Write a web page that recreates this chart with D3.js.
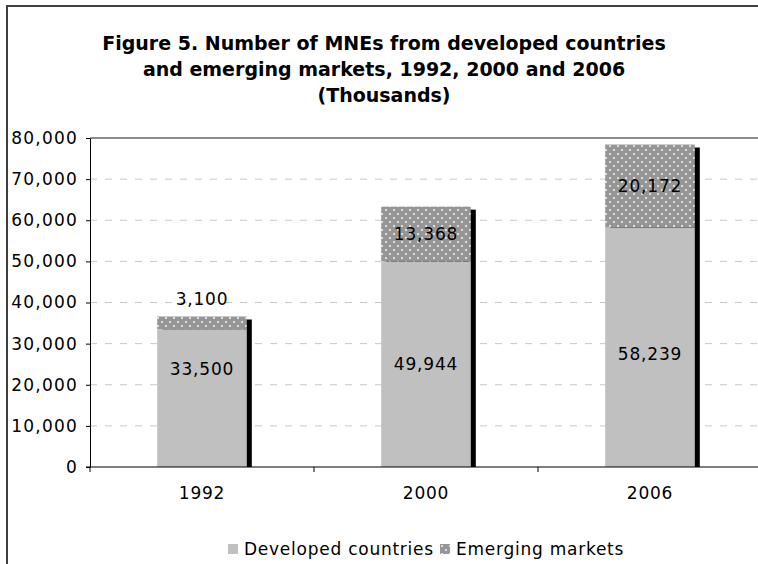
<!DOCTYPE html>
<html>
<head>
  <title>Number of MNEs from developed countries and emerging markets</title>
  <script src="https://d3js.org/d3.v7.min.js"></script>
  <style>
    body { margin: 0; background: #fff; }
    text { font-family: "DejaVu Sans", Verdana, sans-serif; fill: #000; }
    .title { font-weight: bold; font-size: 19px; }
  </style>
</head>
<body>
  <div id="chart"></div>

  <script>
    // chart data
    const years = ["1992", "2000", "2006"];
    const developed = [33500, 49944, 58239];
    const emerging = [3100, 13368, 20172];
    const yTicks = [0, 10000, 20000, 30000, 40000, 50000, 60000, 70000, 80000];
    // where the "developed" labels sit on the value axis (1992 label was moved up)
    const developedLabelAt = [23800, 24972, 27600];
    const titleLines = [
      "Figure 5. Number of MNEs from developed countries",
      "and emerging markets, 1992, 2000 and 2006",
      "(Thousands)"
    ];
    const seriesNames = ["Developed countries", "Emerging markets"];

    const W = 758, H = 564;
    const plot = { left: 90, right: 762, top: 138, bottom: 467 };
    const fontSize = 17;

    const svg = d3.select("#chart").append("svg")
      .attr("width", W)
      .attr("height", H);

    // dotted pattern for emerging markets
    const pat = svg.append("defs").append("pattern")
      .attr("id", "dots")
      .attr("patternUnits", "userSpaceOnUse")
      .attr("width", 8)
      .attr("height", 8);
    pat.append("rect").attr("width", 8).attr("height", 8).attr("fill", "#969696");
    pat.append("rect").attr("x", 1).attr("y", 1).attr("width", 2).attr("height", 2).attr("fill", "#dcdcdc");
    pat.append("rect").attr("x", 5).attr("y", 5).attr("width", 2).attr("height", 2).attr("fill", "#dcdcdc");

    // outer frame (cut off on right and bottom)
    svg.append("rect")
      .attr("x", 7).attr("y", 6)
      .attr("width", W + 20).attr("height", H + 20)
      .attr("fill", "none")
      .attr("stroke", "#404040")
      .attr("stroke-width", 2);

    // title
    svg.append("g").selectAll("text")
      .data(titleLines)
      .enter().append("text")
      .attr("class", "title")
      .attr("x", 384)
      .attr("y", (d, i) => 50 + i * 26)
      .attr("text-anchor", "middle")
      .text(d => d);

    const x = d3.scaleBand()
      .domain(years)
      .range([plot.left, plot.right])
      .paddingInner(0.6)
      .paddingOuter(0.3);

    const y = d3.scaleLinear()
      .domain([0, 80000])
      .range([plot.bottom, plot.top]);

    // gridlines
    svg.append("g").selectAll("line")
      .data(yTicks.filter(d => d > 0))
      .enter().append("line")
      .attr("x1", plot.left).attr("x2", plot.right)
      .attr("y1", d => y(d)).attr("y2", d => y(d))
      .attr("stroke", d => d === 80000 ? "#8c8c8c" : "#c8c8c8")
      .attr("stroke-width", d => d === 80000 ? 2 : 1)
      .attr("stroke-dasharray", d => d === 80000 ? null : "7,8");

    const fmt = d3.format(",");
    const rows = years.map((yr, i) => ({ yr, dev: developed[i], emg: emerging[i], devAt: developedLabelAt[i] }));

    // bar shadows
    svg.append("g").selectAll("rect")
      .data(rows)
      .enter().append("rect")
      .attr("x", d => x(d.yr) + 5)
      .attr("y", d => y(d.dev + d.emg) + 3)
      .attr("width", x.bandwidth())
      .attr("height", d => y(0) - y(d.dev + d.emg) - 3)
      .attr("fill", "#000");

    // developed segment
    svg.append("g").selectAll("rect")
      .data(rows)
      .enter().append("rect")
      .attr("x", d => x(d.yr))
      .attr("y", d => y(d.dev))
      .attr("width", x.bandwidth())
      .attr("height", d => y(0) - y(d.dev))
      .attr("fill", "#c0c0c0");

    // emerging segment
    svg.append("g").selectAll("rect")
      .data(rows)
      .enter().append("rect")
      .attr("x", d => x(d.yr))
      .attr("y", d => y(d.dev + d.emg))
      .attr("width", x.bandwidth())
      .attr("height", d => y(d.dev) - y(d.dev + d.emg))
      .attr("fill", "url(#dots)");

    // data labels
    const labels = svg.append("g")
      .attr("font-size", fontSize)
      .attr("letter-spacing", "0.8px")
      .attr("text-anchor", "middle");

    labels.selectAll(".dev")
      .data(rows)
      .enter().append("text")
      .attr("class", "dev")
      .attr("x", d => x(d.yr) + x.bandwidth() / 2)
      .attr("y", d => y(d.devAt))
      .attr("dy", "0.36em")
      .text(d => fmt(d.dev));

    labels.selectAll(".emg")
      .data(rows)
      .enter().append("text")
      .attr("class", "emg")
      .attr("x", d => x(d.yr) + x.bandwidth() / 2)
      .attr("y", d => {
        const segH = y(d.dev) - y(d.dev + d.emg);
        return segH > 24 ? y(d.dev + d.emg / 2) : y(d.dev + d.emg) - 18;
      })
      .attr("dy", "0.36em")
      .text(d => fmt(d.emg));

    // y axis
    const yAxis = svg.append("g")
      .attr("transform", "translate(" + plot.left + ",0)")
      .call(d3.axisLeft(y).tickValues(yTicks).tickFormat(fmt).tickSize(4).tickSizeOuter(0).tickPadding(8));
    yAxis.select(".domain").attr("stroke", "#000");
    yAxis.selectAll("text").attr("font-size", fontSize).attr("letter-spacing", "1.2px")
      .attr("font-family", "DejaVu Sans, Verdana, sans-serif");

    // x axis line with ticks at category boundaries
    svg.append("line")
      .attr("x1", plot.left - 4).attr("x2", plot.right)
      .attr("y1", plot.bottom).attr("y2", plot.bottom)
      .attr("stroke", "#000");

    const step = x.step();
    svg.append("g").selectAll("line")
      .data(years)
      .enter().append("line")
      .attr("x1", d => x(d) - step * 0.3)
      .attr("x2", d => x(d) - step * 0.3)
      .attr("y1", plot.bottom)
      .attr("y2", plot.bottom + 5)
      .attr("stroke", "#000");

    svg.append("g").selectAll("text")
      .data(years)
      .enter().append("text")
      .attr("x", d => x(d) + x.bandwidth() / 2)
      .attr("y", plot.bottom + 32)
      .attr("text-anchor", "middle")
      .attr("font-size", fontSize)
      .attr("letter-spacing", "0.8px")
      .text(d => d);

    // legend
    const legend = svg.append("g").attr("transform", "translate(228,544)");
    const items = legend.selectAll("g")
      .data(seriesNames)
      .enter().append("g")
      .attr("transform", (d, i) => "translate(" + (i * 212) + ",0)");
    items.append("rect")
      .attr("width", 10).attr("height", 10)
      .attr("fill", (d, i) => i === 0 ? "#c0c0c0" : "url(#dots)");
    items.append("text")
      .attr("x", 16)
      .attr("y", 5)
      .attr("dy", "0.36em")
      .attr("font-size", fontSize)
      .attr("letter-spacing", "0.75px")
      .text(d => d);
  </script>
</body>
</html>
